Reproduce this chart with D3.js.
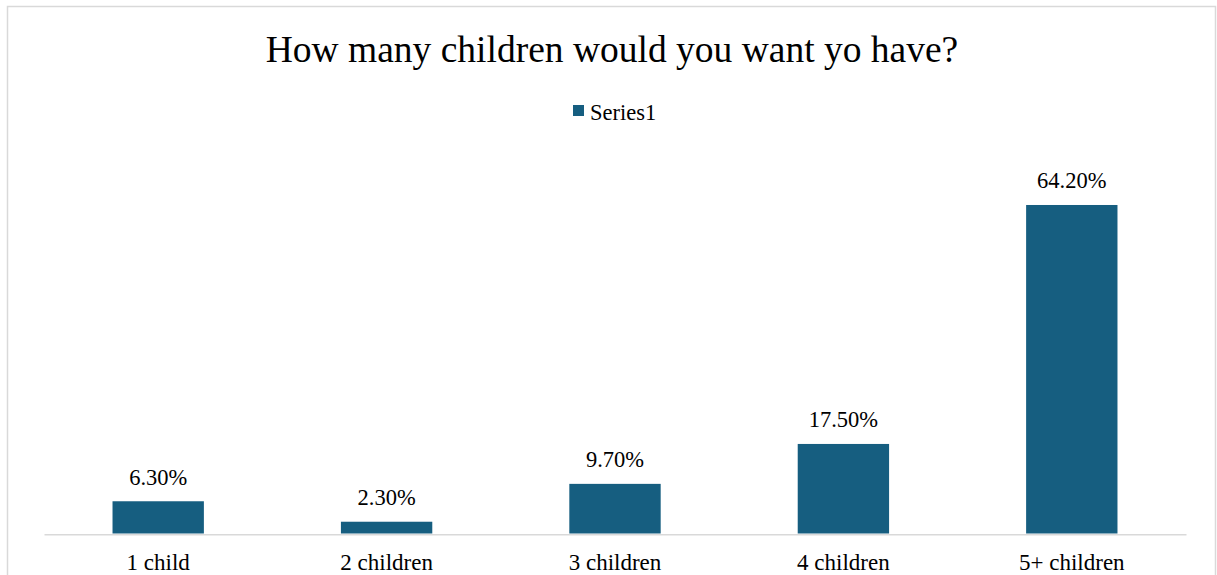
<!DOCTYPE html>
<html>
<head>
<meta charset="utf-8">
<script src="https://cdn.jsdelivr.net/npm/d3@7/dist/d3.min.js"></script>
<style>
  html, body { margin: 0; padding: 0; background: #fff; }
  svg { display: block; }
  text { font-family: "Liberation Serif", "Times New Roman", serif; fill: #000; }
</style>
</head>
<body>
<svg id="chart" width="1217" height="575"></svg>
<script>
// Survey answers: preferred number of children
const categories = ["1 child", "2 children", "3 children", "4 children", "5+ children"];
const values = [6.3, 2.3, 9.7, 17.5, 64.2];
const seriesName = "Series1";
const titleText = "How many children would you want yo have?";

const svg = d3.select("#chart");
const barColor = "#165e80";
const gridColor = "#d9d9d9";

// chart area frame (bottom edge runs past the viewport)
svg.append("rect")
  .attr("x", 7.5).attr("y", 6.5)
  .attr("width", 1208).attr("height", 600)
  .attr("fill", "#fff")
  .attr("stroke", gridColor).attr("stroke-width", 1.5);

const plot = { left: 44, right: 1186, top: 175, bottom: 533.5 };

const x = d3.scaleBand()
  .domain(categories)
  .range([plot.left, plot.right])
  .paddingInner(0.6)
  .paddingOuter(0.3);

const y = d3.scaleLinear()
  .domain([0, 70])
  .range([plot.bottom, plot.bottom - 70 * 5.117]);

// title
svg.append("text")
  .attr("x", 612).attr("y", 62)
  .attr("text-anchor", "middle")
  .style("font-size", "37.5px")
  .text(titleText);

// legend
const legend = svg.append("g").attr("transform", "translate(573,105)");
legend.append("rect")
  .attr("width", 11).attr("height", 11)
  .attr("fill", barColor);
legend.append("text")
  .attr("x", 17).attr("y", 14.5)
  .style("font-size", "22.5px")
  .text(seriesName);

const data = categories.map((c, i) => ({ c, v: values[i] }));

// bars
svg.append("g").selectAll("rect")
  .data(data)
  .join("rect")
  .attr("x", d => x(d.c))
  .attr("y", d => y(d.v))
  .attr("width", x.bandwidth())
  .attr("height", d => y(0) - y(d.v))
  .attr("fill", barColor);

// value labels
svg.append("g").selectAll("text")
  .data(data)
  .join("text")
  .attr("x", d => x(d.c) + x.bandwidth() / 2)
  .attr("y", d => y(d.v) - 16.5)
  .attr("text-anchor", "middle")
  .style("font-size", "22.5px")
  .text(d => d.v.toFixed(2) + "%");

// category axis
const axis = svg.append("g")
  .attr("transform", `translate(0,${plot.bottom + 0.75})`)
  .call(d3.axisBottom(x).tickSize(0).tickPadding(0));
axis.select(".domain")
  .attr("stroke", gridColor).attr("stroke-width", 1.5);
axis.selectAll(".tick text")
  .attr("dy", null)
  .attr("y", 36)
  .style("font-size", "23px")
  .style("font-family", "'Liberation Serif', 'Times New Roman', serif")
  .attr("fill", "#000");
</script>
</body>
</html>
